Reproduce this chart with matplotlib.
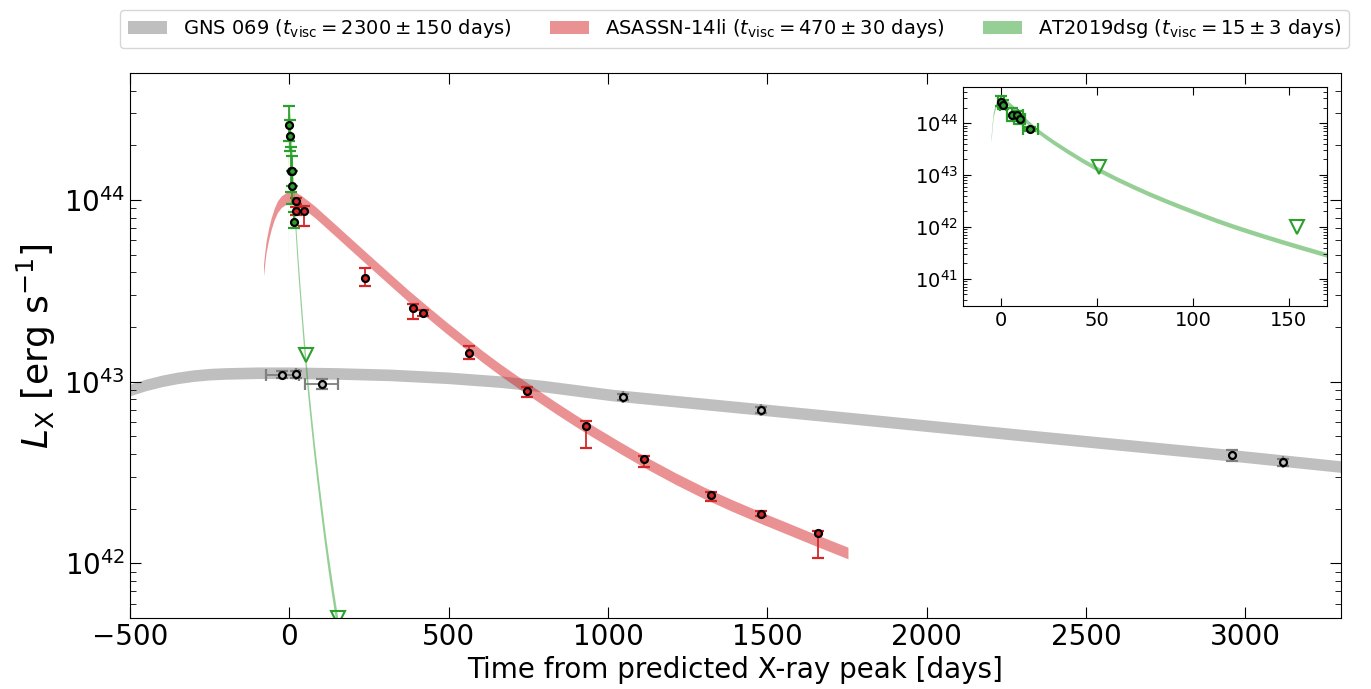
import numpy as np
import matplotlib
matplotlib.use("Agg")
import matplotlib.pyplot as plt
from matplotlib.patches import Patch

# ---- observed points ----
# GNS 069
gns_t = [-22, 22, 101, 1047, 1481, 2958, 3117]
gns_L = [1.094e43, 1.10e43, 9.77e42, 8.24e42, 7.0e42, 3.93e42, 3.6e42]
gns_Lerr = [0.05e43, 0.05e43, 0.6e42, 0.3e42, 0.3e42, 0.25e42, 0.15e42]
gns_terr = [52, 0, 51, 0, 0, 0, 0]

# ASASSN-14li
as_t = [21, 21, 46, 236, 388, 420, 564, 747, 931, 1112, 1324, 1480, 1659]
as_L = [9.9e43, 8.7e43, 8.7e43, 3.73e43, 2.55e43, 2.39e43, 1.43e43, 8.85e42,
        5.68e42, 3.77e42, 2.37e42, 1.88e42, 1.46e42]
as_Lerr_lo = [0.4e43, 0.4e43, 1.5e43, 0.37e43, 0.33e43, 0.1e43, 0.1e43, 0.65e42,
              1.38e42, 0.37e42, 0.17e42, 0.05e42, 0.39e42]
as_Lerr_hi = [0.4e43, 0.4e43, 0.6e43, 0.47e43, 0.11e43, 0.1e43, 0.14e43, 0.45e42,
              0.39e42, 0.13e42, 0.09e42, 0.05e42, 0.04e42]

# AT2019dsg
dsg_t = [0.0, 0.9, 5.8, 8.4, 9.6, 15.2]
dsg_L = [2.6e44, 2.25e44, 1.45e44, 1.45e44, 1.2e44, 7.6e43]
dsg_Lerr_lo = [0.5e44, 0.4e44, 0.35e44, 0.25e44, 0.25e44, 0.6e43]
dsg_Lerr_hi = [0.7e44, 0.5e44, 0.5e44, 0.3e44, 0.25e44, 1.0e43]
dsg_terr = [1.5, 1.5, 3.0, 3.0, 3.0, 4.0]
dsg_ul_t = [50.9, 154.2]
dsg_ul_L_inset = [1.41e43, 1.0e42]
dsg_ul_L_main = [1.4e43, 5.0e41]

# ---- model curves, centre lines ----
gns_mod_t = [-520, -500, -450, -400, -350, -300, -250, -200, -100, 0, 150, 316, 500,
             664, 800, 1011, 1358, 1784, 2300, 2958, 3320]
gns_mod_L = [8.8e42, 9.0e42, 9.6e42, 1.01e43, 1.05e43, 1.08e43, 1.10e43, 1.11e43,
             1.12e43, 1.12e43, 1.11e43, 1.09e43, 1.05e43, 1.0e43, 9.44e42, 8.45e42,
             7.38e42, 6.24e42, 5.08e42, 3.93e42, 3.38e42]

as_mod_t = [-81, -77, -73, -65, -57, -47, -37, -25, -10, 0, 15, 40, 80, 143, 200, 258,
            316, 374, 432, 490, 548, 605, 663, 721, 779, 837, 895, 953, 1040, 1127,
            1213, 1300, 1387, 1474, 1561, 1648, 1753]
as_mod_L = [4.1e43, 4.8e43, 5.5e43, 6.5e43, 7.4e43, 8.4e43, 9.2e43, 9.8e43, 1.02e44,
            1.03e44, 1.04e44, 9.77e43, 8.61e43, 6.85e43, 5.56e43, 4.50e43, 3.65e43,
            2.96e43, 2.43e43, 2.00e43, 1.66e43, 1.38e43, 1.16e43, 9.84e42, 8.38e42,
            7.16e42, 6.15e42, 5.32e42, 4.31e42, 3.52e42, 2.92e42, 2.45e42, 2.09e42,
            1.80e42, 1.56e42, 1.35e42, 1.14e42]

dsg_mod_t = [-5.4, -4.8, -4.2, -3.3, -2.4, -1.5, -0.7, 1.0, 3.0, 6.0, 8.9, 12.0, 16.7,
             22.0, 27.0, 34.1, 42.0, 51.5, 60.0, 68.9, 77.0, 86.3, 95.0, 103.7, 112.0,
             121.1, 130.0, 138.5, 147.0, 155.9, 163.0, 169.8, 172.0]
dsg_mod_L = [4.8e43, 9.0e43, 1.47e44, 2.0e44, 2.4e44, 2.75e44, 2.9e44, 2.85e44,
             2.5e44, 2.0e44, 1.6e44, 1.2e44, 8.3e43, 5.89e43, 4.37e43, 2.95e43, 1.95e43,
             1.23e43, 8.51e42, 5.96e42, 4.37e42, 3.14e42, 2.34e42, 1.76e42, 1.35e42,
             1.03e42, 8.04e41, 6.40e41, 5.13e41, 4.09e41, 3.43e41, 2.90e41, 2.75e41]

# band half-widths in dex (line thickness of the model curves)
gns_w, as_w, dsg_w = 0.032, 0.032, 0.045

labels = [r"GNS 069 ($t_{\rm visc} = 2300 \pm 150$ days)",
          r"ASASSN-14li ($t_{\rm visc} = 470 \pm 30$ days)",
          r"AT2019dsg ($t_{\rm visc} = 15 \pm 3$ days)"]


def band(axis, t, L, w, color):
    L = np.asarray(L)
    axis.fill_between(t, L * 10 ** -w, L * 10 ** w, color=color, alpha=0.5, lw=0)


fig = plt.figure(figsize=(13.71, 6.89), dpi=100)
ax = fig.add_axes([0.0948, 0.1030, 0.8833, 0.7910])

band(ax, gns_mod_t, gns_mod_L, gns_w, "gray")
band(ax, as_mod_t, as_mod_L, as_w, "tab:red")
band(ax, dsg_mod_t, dsg_mod_L, dsg_w, "tab:green")

mk = dict(fmt="o", ms=5, mec="k", mew=1.6, capsize=4, elinewidth=1.3, capthick=1.3)
ax.errorbar(gns_t, gns_L, yerr=gns_Lerr, xerr=gns_terr, mfc="silver", ecolor="gray", **mk)
ax.errorbar(as_t, as_L, yerr=[as_Lerr_lo, as_Lerr_hi], mfc="tab:red", ecolor="tab:red", **mk)
ax.errorbar(dsg_t, dsg_L, yerr=[dsg_Lerr_lo, dsg_Lerr_hi], mfc="tab:green",
            ecolor="tab:green", **mk)
ax.plot(dsg_ul_t, dsg_ul_L_main, "v", ms=10, mfc="none", mec="tab:green", mew=1.5)

ax.set_yscale("log")
ax.set_xlim(-500, 3300)
ax.set_ylim(5e41, 5e44)
ax.set_xlabel("Time from predicted X-ray peak [days]", fontsize=20)
ax.set_ylabel(r"$L_{\rm X}$ [erg s$^{-1}$]", fontsize=26)
ax.tick_params(which="both", direction="in", top=True, right=True, labelsize=20)
ax.tick_params(which="major", length=8)
ax.tick_params(which="minor", length=4)

# inset
axin = fig.add_axes([0.7024, 0.5559, 0.2655, 0.3179])
band(axin, dsg_mod_t, dsg_mod_L, dsg_w, "tab:green")
axin.errorbar(dsg_t, dsg_L, yerr=[dsg_Lerr_lo, dsg_Lerr_hi], xerr=dsg_terr,
              mfc="tab:green", ecolor="tab:green", **mk)
axin.plot(dsg_ul_t, dsg_ul_L_inset, "v", ms=10, mfc="none", mec="tab:green", mew=1.5)
axin.set_yscale("log")
axin.set_xlim(-20, 170)
axin.set_ylim(3e40, 5e44)
axin.set_yticks([1e41, 1e42, 1e43, 1e44])
axin.tick_params(which="both", direction="in", top=True, right=True, labelsize=14)
axin.tick_params(which="major", length=6)
axin.tick_params(which="minor", length=3)

handles = [Patch(facecolor=c, alpha=0.5, lw=0) for c in ("gray", "tab:red", "tab:green")]
fig.legend(handles, labels, loc="upper center", bbox_to_anchor=(0.536, 1.0), ncol=3,
           fontsize=14, columnspacing=2.0)

fig.savefig("out.png", dpi=100)
